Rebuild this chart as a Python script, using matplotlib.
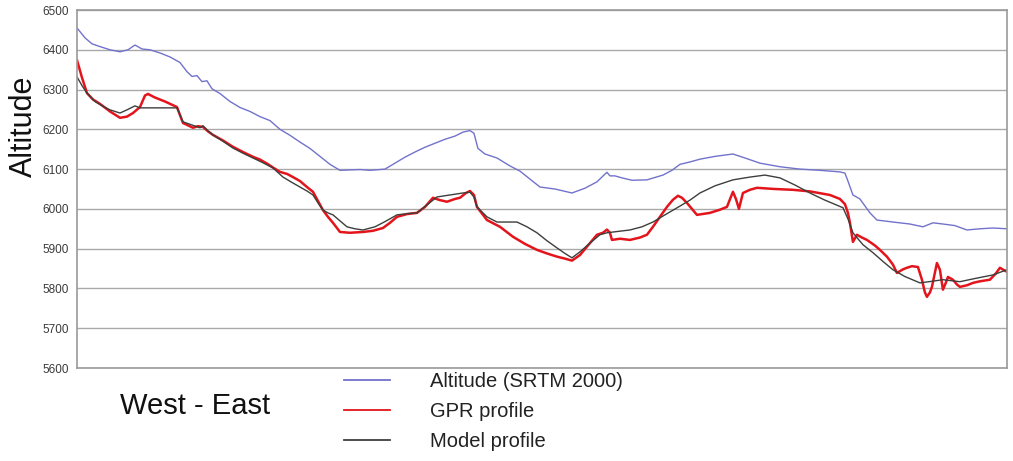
import matplotlib
matplotlib.use("Agg")
import matplotlib.pyplot as plt

# distance along the West - East profile (arbitrary units) and altitude (m)
srtm_dist = [0, 8, 15, 23, 33, 43, 51, 58, 65, 73,
             83, 93, 103, 110, 115, 120, 125, 130, 135, 143,
             153, 163, 173, 183, 193, 203, 213, 223, 233, 243,
             253, 263, 273, 283, 293, 308, 318, 328, 338, 348,
             358, 368, 378, 386, 393, 397, 401, 408, 420, 433,
             443, 453, 463, 478, 495, 508, 520, 527, 530, 533,
             538, 545, 555, 570, 586, 595, 603, 613, 623, 638,
             656, 668, 683, 703, 723, 743, 763, 768, 771, 776,
             783, 793, 800, 816, 833, 846, 856, 866, 878, 890,
             903, 916, 930]
srtm_alt = [6455, 6430, 6415, 6408, 6400, 6395, 6400, 6412, 6402, 6400,
            6392, 6382, 6368, 6345, 6333, 6335, 6320, 6322, 6302, 6290,
            6270, 6255, 6245, 6232, 6222, 6200, 6185, 6168, 6152, 6132,
            6112, 6097, 6098, 6099, 6097, 6100, 6115, 6130, 6143, 6155,
            6165, 6175, 6183, 6193, 6197, 6190, 6152, 6138, 6128, 6108,
            6095, 6075, 6055, 6050, 6040, 6052, 6068, 6085, 6092, 6083,
            6083, 6078, 6072, 6073, 6085, 6097, 6112, 6118, 6125, 6132,
            6138, 6128, 6115, 6106, 6100, 6097, 6093, 6090, 6070, 6035,
            6025, 5990, 5972, 5967, 5962, 5955, 5965, 5962, 5958, 5947,
            5950, 5952, 5950]

gpr_dist = [0, 5, 10, 16, 23, 33, 43, 50, 56, 63,
            68, 71, 78, 88, 100, 106, 111, 116, 121, 126,
            131, 136, 146, 156, 166, 176, 183, 190, 196, 203,
            210, 216, 223, 230, 236, 241, 246, 251, 256, 263,
            273, 286, 296, 306, 313, 320, 330, 340, 348, 356,
            363, 370, 378, 383, 389, 393, 397, 400, 410, 423,
            436, 448, 460, 470, 480, 488, 495, 503, 513, 520,
            526, 530, 533, 535, 543, 553, 563, 570, 576, 583,
            590, 596, 601, 605, 610, 615, 620, 633, 643, 650,
            654, 656, 659, 662, 664, 666, 673, 680, 698, 716,
            733, 753, 763, 768, 771, 773, 776, 780, 785, 790,
            798, 803, 810, 816, 820, 826, 830, 835, 841, 845,
            848, 850, 853, 855, 858, 860, 863, 866, 869, 871,
            876, 880, 883, 890, 896, 903, 913, 919, 923, 927,
            930]
gpr_alt = [6374, 6330, 6291, 6275, 6264, 6245, 6229, 6232, 6241, 6256,
           6285, 6289, 6280, 6270, 6256, 6216, 6210, 6204, 6208, 6206,
           6195, 6186, 6172, 6156, 6143, 6131, 6124, 6114, 6104, 6093,
           6088, 6080, 6070, 6055, 6043, 6020, 5997, 5980, 5965, 5942,
           5940, 5942, 5945, 5952, 5965, 5980, 5987, 5990, 6005, 6028,
           6022, 6018, 6025, 6028, 6040, 6045, 6035, 6005, 5972, 5955,
           5930, 5912, 5897, 5888, 5880, 5875, 5870, 5884, 5914, 5935,
           5940, 5948, 5940, 5922, 5925, 5922, 5928, 5935, 5955, 5980,
           6005, 6023, 6033, 6028, 6015, 6000, 5985, 5990, 5998, 6005,
           6030, 6043, 6025, 6000, 6020, 6040, 6048, 6053, 6050, 6048,
           6044, 6035, 6025, 6012, 5990, 5965, 5917, 5935, 5928, 5922,
           5908, 5897, 5880, 5860, 5839, 5848, 5852, 5856, 5854, 5822,
           5790, 5779, 5790, 5804, 5840, 5864, 5847, 5797, 5815, 5829,
           5822, 5810, 5804, 5808, 5814, 5818, 5822, 5838, 5852, 5846,
           5842]

model_dist = [0, 5, 10, 18, 26, 33, 43, 50, 58, 63,
              73, 100, 106, 116, 123, 126, 131, 136, 146, 156,
              166, 176, 186, 196, 206, 216, 223, 230, 236, 241,
              246, 251, 256, 263, 270, 278, 286, 298, 308, 320,
              330, 340, 350, 360, 373, 386, 393, 397, 400, 410,
              420, 440, 450, 460, 470, 480, 488, 495, 503, 513,
              523, 530, 543, 553, 565, 576, 588, 603, 613, 623,
              638, 656, 673, 688, 703, 718, 733, 748, 766, 771,
              776, 786, 796, 806, 816, 828, 843, 855, 866, 883,
              898, 916, 930]
model_alt = [6332, 6310, 6291, 6270, 6258, 6249, 6241, 6249, 6259, 6254,
             6254, 6254, 6219, 6210, 6204, 6209, 6196, 6186, 6170, 6153,
             6140, 6128, 6116, 6103, 6080, 6065, 6055, 6045, 6035, 6015,
             5997, 5990, 5985, 5970, 5955, 5950, 5947, 5955, 5968, 5985,
             5988, 5990, 6010, 6030, 6035, 6040, 6042, 6030, 6005, 5980,
             5967, 5967, 5955, 5940, 5920, 5902, 5888, 5877, 5892, 5914,
             5935, 5940, 5944, 5947, 5955, 5967, 5985, 6007, 6022, 6040,
             6058, 6073, 6080, 6085, 6078, 6060, 6040, 6022, 6003, 5975,
             5940, 5910, 5890, 5868, 5847, 5830, 5814, 5818, 5822, 5817,
             5825, 5834, 5847]

y_ticks = list(range(5600, 6501, 100))
labels = ["Altitude (SRTM 2000)", "GPR profile", "Model profile"]


def plot_chart():
    plt.rcParams['font.family'] = ['Liberation Sans', 'DejaVu Sans']
    fig = plt.figure(figsize=(10.13, 4.61), dpi=100)
    ax = fig.add_axes([0.076, 0.2017, 0.918, 0.7766])

    l1, = ax.plot(srtm_dist, srtm_alt, color="#7272cc", linewidth=1.0)
    l2, = ax.plot(gpr_dist, gpr_alt, color="#e4141c", linewidth=1.8)
    l3, = ax.plot(model_dist, model_alt, color="#3c3f3c", linewidth=1.0)

    ax.set_xlim(0, 930)
    ax.set_ylim(5600, 6500)
    ax.set_yticks(y_ticks)
    ax.set_xticks([])
    ax.tick_params(axis="y", length=0, labelsize=8.5, labelcolor="#3a3a3a", pad=6)
    ax.grid(axis="y", color="#a9a9a9", linewidth=1.0)
    ax.set_axisbelow(True)
    for side in ["left", "bottom", "right", "top"]:
        ax.spines[side].set_color("#9a9a9a")
        ax.spines[side].set_linewidth(1.2)

    fig.text(0.024, 0.725, "Altitude", rotation=90, fontsize=22,
             ha="center", va="center", color="#111111")
    fig.text(0.118, 0.12, "West - East", fontsize=21,
             ha="left", va="center", color="#111111")

    leg = fig.legend([l1, l2, l3], labels, loc="upper left",
                     bbox_to_anchor=(0.332, 0.21), frameon=False, fontsize=14.5,
                     handlelength=2.25, handletextpad=2.0, labelspacing=0.55,
                     borderaxespad=0, labelcolor="#222222")
    for h in leg.legend_handles:
        h.set_linewidth(1.3)

    fig.savefig("out.png", dpi=100)


if __name__ == '__main__':
    plot_chart()
